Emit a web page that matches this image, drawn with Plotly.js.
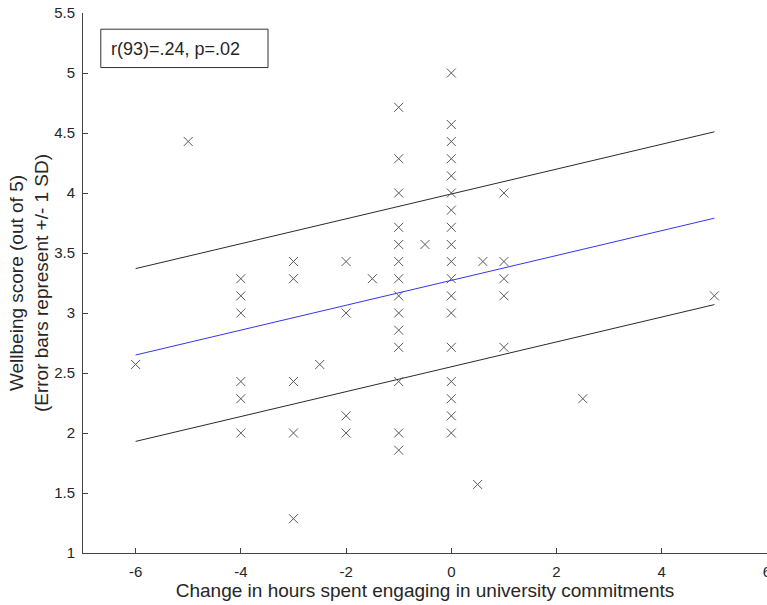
<!DOCTYPE html>
<html>
<head>
<meta charset="utf-8">
<script src="https://cdn.plot.ly/plotly-3.0.1.min.js"></script>
<style>html,body{margin:0;padding:0;background:#fff;}#chart{width:767px;height:605px;}</style>
</head>
<body>
<div id="chart"></div>
<script>
// Observed data points (change in hours, wellbeing score)
const pointX = [
  -6,
  -5,
  -4, -4, -4, -4, -4, -4,
  -3, -3, -3, -3, -3,
  -2.5,
  -2, -2, -2, -2,
  -1.5,
  -1, -1, -1, -1, -1, -1, -1, -1, -1, -1, -1, -1, -1, -1,
  -0.5,
  0, 0, 0, 0, 0, 0, 0, 0, 0, 0, 0, 0, 0, 0, 0, 0, 0, 0,
  0.5,
  0.6,
  1, 1, 1, 1, 1,
  2.5,
  5
];
const pointY = [
  2.571,
  4.429,
  3.286, 3.143, 3.0, 2.429, 2.286, 2.0,
  3.429, 3.286, 2.429, 2.0, 1.286,
  2.571,
  3.429, 3.0, 2.143, 2.0,
  3.286,
  4.714, 4.286, 4.0, 3.714, 3.571, 3.429, 3.286, 3.143, 3.0, 2.857, 2.714, 2.429, 2.0, 1.857,
  3.571,
  5.0, 4.571, 4.429, 4.286, 4.143, 4.0, 3.857, 3.714, 3.571, 3.429, 3.286, 3.143, 3.0, 2.714, 2.429, 2.286, 2.143, 2.0,
  1.571,
  3.429,
  4.0, 3.429, 3.286, 3.143, 2.714,
  2.286,
  3.143
];
// Regression line and +/- 1 SD lines (endpoints)
const lineX = [-6, 5];
const fitY = [2.65, 3.79];
const upperY = [3.37, 4.51];
const lowerY = [1.93, 3.07];

const xTicks = [-6, -4, -2, 0, 2, 4, 6];
const yTicks = [1, 1.5, 2, 2.5, 3, 3.5, 4, 4.5, 5, 5.5];
const yTickText = ['1', '1.5', '2', '2.5', '3', '3.5', '4', '4.5', '5', '5.5'];

const statText = 'r(93)=.24, p=.02';
const xTitle = 'Change in hours spent engaging in university commitments';
const yTitle = 'Wellbeing score (out of 5)<br>(Error bars represent +/- 1 SD)';

const FONT = 'Liberation Sans, Arial, Helvetica, sans-serif';

const traces = [
  {
    x: lineX, y: upperY, mode: 'lines', type: 'scatter',
    line: {color: '#2a2a2a', width: 1}, hoverinfo: 'skip', showlegend: false
  },
  {
    x: lineX, y: lowerY, mode: 'lines', type: 'scatter',
    line: {color: '#2a2a2a', width: 1}, hoverinfo: 'skip', showlegend: false
  },
  {
    x: lineX, y: fitY, mode: 'lines', type: 'scatter',
    line: {color: '#3535f0', width: 1}, hoverinfo: 'skip', showlegend: false
  },
  {
    x: pointX, y: pointY, mode: 'markers', type: 'scatter',
    marker: {symbol: 'x-thin', size: 9, color: '#5a5a5a', line: {color: '#5a5a5a', width: 1}},
    showlegend: false
  }
];

const layout = {
  width: 767, height: 605,
  margin: {l: 83, r: 0, t: 13, b: 52, pad: 0},
  paper_bgcolor: '#fff', plot_bgcolor: '#fff',
  font: {family: FONT, color: '#262626', size: 15},
  showlegend: false,
  xaxis: {
    range: [-7, 6], tickvals: xTicks, ticktext: xTicks.map(String),
    ticks: 'inside', ticklen: 5, tickwidth: 1, tickcolor: '#444',
    showline: true, linecolor: '#444', linewidth: 1, mirror: false,
    showgrid: false, zeroline: false,
    tickfont: {size: 15, family: FONT, color: '#262626'},
    ticklabelstandoff: 5,
    ticklabeloverflow: 'allow',
    title: {text: xTitle, font: {size: 19, family: FONT, color: '#262626'}, standoff: 4}
  },
  yaxis: {
    range: [1, 5.5], tickvals: yTicks, ticktext: yTickText,
    ticks: 'inside', ticklen: 5, tickwidth: 1, tickcolor: '#444',
    showline: true, linecolor: '#444', linewidth: 1, mirror: false,
    showgrid: false, zeroline: false,
    tickfont: {size: 15, family: FONT, color: '#262626'},
    ticklabelstandoff: 4,
    ticklabeloverflow: 'allow',
    title: {text: yTitle, font: {size: 19, family: FONT, color: '#262626'}, standoff: 0}
  },
  shapes: [
    {type: 'rect', xref: 'paper', yref: 'paper', x0: 0.026, x1: 0.2705, y0: 0.899, y1: 0.970,
     line: {color: '#333', width: 1}, fillcolor: 'rgba(0,0,0,0)'}
  ],
  annotations: [
    {xref: 'paper', yref: 'paper', x: 0.038, y: 0.934, xanchor: 'left', yanchor: 'middle',
     text: statText, showarrow: false, font: {size: 18, family: FONT, color: '#262626'}}
  ]
};

Plotly.newPlot('chart', traces, layout, {displayModeBar: false, staticPlot: true});
</script>
</body>
</html>
